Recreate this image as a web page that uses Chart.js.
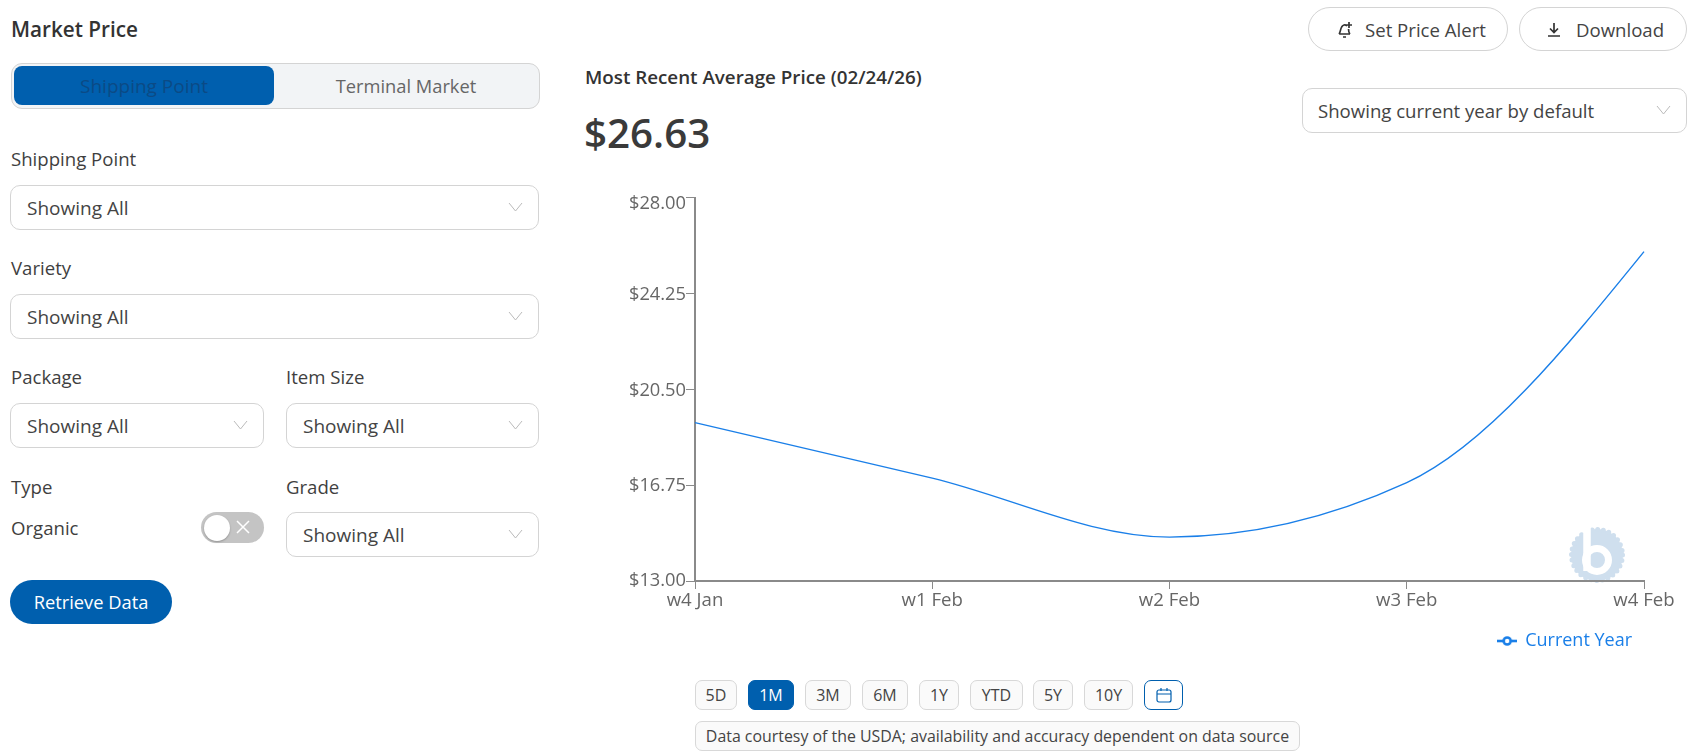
<!DOCTYPE html>
<html><head><meta charset="utf-8">
<script src="https://cdn.jsdelivr.net/npm/chart.js@4"></script>
<style>
html,body{margin:0;padding:0;background:#fff;width:1703px;height:754px;overflow:hidden;font-family:"Open Sans","Noto Sans",sans-serif;color:#3a3a3a}
.a{position:absolute;white-space:nowrap;line-height:1}
.lbl{font-size:18.6px;color:#3f3f3f}
.sel{position:absolute;box-sizing:border-box;border:1px solid #d4d4d4;border-radius:10px;height:45px;background:#fff;font-size:19px;color:#444;padding-left:16px;line-height:45px}
.sel svg{position:absolute;right:15px;top:16px}
.pill{position:absolute;box-sizing:border-box;border:1px solid #d4d4d4;border-radius:22px;height:44px;background:#fff;font-size:18.6px;color:#444;line-height:43px}
.rng{position:absolute;box-sizing:border-box;top:680px;height:30px;border:1px solid #d8d8d8;border-radius:7px;font-size:16px;line-height:28px;text-align:center;color:#444;background:#fafafa}
</style></head><body>
<div class="a" style="left:11px;top:19px;font-size:20.7px;font-weight:600;color:#333">Market Price</div>
<div style="position:absolute;left:11px;top:63px;width:529px;height:46px;box-sizing:border-box;background:#f2f4f6;border:1px solid #d4d4d4;border-radius:11px"></div>
<div style="position:absolute;left:14px;top:66px;width:260px;height:39px;background:#005fae;border-radius:8px;color:#0b4a85;font-size:19px;line-height:40px;text-align:center">Shipping Point</div>
<div class="a" style="left:274px;top:77px;width:264px;text-align:center;font-size:18.3px;color:#666">Terminal Market</div>

<div class="a lbl" style="left:11px;top:150px">Shipping Point</div>
<div class="sel" style="left:10px;top:185px;width:529px">Showing All<svg width="15" height="10"><path d="M1 1 L7.5 9 L14 1" fill="none" stroke="#bbb"/></svg></div>
<div class="a lbl" style="left:11px;top:259px">Variety</div>
<div class="sel" style="left:10px;top:294px;width:529px">Showing All<svg width="15" height="10"><path d="M1 1 L7.5 9 L14 1" fill="none" stroke="#bbb"/></svg></div>
<div class="a lbl" style="left:11px;top:368px">Package</div>
<div class="sel" style="left:10px;top:403px;width:254px">Showing All<svg width="15" height="10"><path d="M1 1 L7.5 9 L14 1" fill="none" stroke="#bbb"/></svg></div>
<div class="a lbl" style="left:286px;top:368px">Item Size</div>
<div class="sel" style="left:286px;top:403px;width:253px">Showing All<svg width="15" height="10"><path d="M1 1 L7.5 9 L14 1" fill="none" stroke="#bbb"/></svg></div>
<div class="a lbl" style="left:11px;top:478px">Type</div>
<div class="a lbl" style="left:11px;top:519px">Organic</div>
<div style="position:absolute;left:201px;top:512px;width:63px;height:31px;border-radius:16px;background:#c4c4c4"></div>
<div style="position:absolute;left:204px;top:515px;width:26px;height:26px;border-radius:50%;background:#fff;box-shadow:0 1px 2px rgba(0,0,0,.25)"></div>
<svg style="position:absolute;left:236px;top:520px" width="14" height="14"><path d="M1 1 L13 13 M13 1 L1 13" stroke="#fff" stroke-width="1.5"/></svg>
<div class="a lbl" style="left:286px;top:478px">Grade</div>
<div class="sel" style="left:286px;top:512px;width:253px">Showing All<svg width="15" height="10"><path d="M1 1 L7.5 9 L14 1" fill="none" stroke="#bbb"/></svg></div>
<div style="position:absolute;left:10px;top:580px;width:162px;height:44px;border-radius:22px;background:#005fae;color:#fff;font-size:18.3px;line-height:44px;text-align:center">Retrieve Data</div>

<div class="a" style="left:585px;top:68px;font-size:18.8px;font-weight:600;color:#333">Most Recent Average Price (02/24/26)</div>
<div class="a" style="left:584px;top:113px;font-size:40.3px;font-weight:600;color:#3a3a3a">$26.63</div>

<div class="pill" style="left:1308px;top:7px;width:200px;padding-left:56px">Set Price Alert
<svg style="position:absolute;left:27px;top:12px" width="18" height="20"><path d="M3 14 C5 12 4 6 8 5 C9 4.8 10 5 11 6 M12.5 9 C12.5 11 13 13 14 14 M3 14 H14 M7 17 H10 M13 2 V8 M10 5 H16" fill="none" stroke="#333" stroke-width="1.7"/></svg></div>
<div class="pill" style="left:1519px;top:7px;width:168px;padding-left:56px">Download
<svg style="position:absolute;left:27px;top:14px" width="14" height="16"><path d="M7 1 V10 M3 6.5 L7 10.5 L11 6.5 M1 14 H13" fill="none" stroke="#333" stroke-width="1.7"/></svg></div>
<div class="sel" style="left:1302px;top:88px;width:385px;height:45px;line-height:44px;padding-left:15px;font-size:18.6px">Showing current year by default<svg width="15" height="10"><path d="M1 1 L7.5 9 L14 1" fill="none" stroke="#bbb"/></svg></div>

<svg style="position:absolute;left:1567px;top:525px" width="60" height="60">
  <circle cx="30" cy="30" r="26" fill="#cfdfee"/>
  <circle cx="30" cy="30" r="25.5" fill="none" stroke="#cfdfee" stroke-width="5" stroke-linecap="round" stroke-dasharray="0 5.72"/>
  <circle cx="30" cy="35" r="11.5" fill="none" stroke="#fff" stroke-width="7"/>
  <path d="M20 3 V46" stroke="#fff" stroke-width="7.5"/>
</svg>

<div style="position:absolute;left:589px;top:187px;width:1090px;height:473px"><canvas id="c"></canvas></div>

<div class="rng" style="left:695px;width:42px">5D</div>
<div class="rng" style="left:748px;width:46px;background:#005fae;border-color:#005fae;color:#fff">1M</div>
<div class="rng" style="left:805px;width:46px">3M</div>
<div class="rng" style="left:862px;width:46px">6M</div>
<div class="rng" style="left:919px;width:40px">1Y</div>
<div class="rng" style="left:970px;width:53px">YTD</div>
<div class="rng" style="left:1033px;width:40px">5Y</div>
<div class="rng" style="left:1084px;width:49px">10Y</div>
<div class="rng" style="left:1144px;width:39px;background:#fff;border-color:#005fae"><svg width="16" height="16" style="margin-top:6px"><rect x="1" y="3" width="14" height="12" rx="2" fill="none" stroke="#005fae" stroke-width="1.2"/><path d="M1 7 H15 M5 1 V4 M11 1 V4" stroke="#005fae" stroke-width="1.2"/></svg></div>
<div class="rng" style="left:695px;top:721px;width:605px;font-size:15.9px;text-align:center">Data courtesy of the USDA; availability and accuracy dependent on data source</div>

<script>
const categories = ["w4 Jan","w1 Feb","w2 Feb","w3 Feb","w4 Feb"];
const yTicks = [13,16.75,20.5,24.25,28];
const currentYear = [19.2,17.03,14.72,16.85,25.9];
const seriesName = "Current Year";

const icon = document.createElement('canvas'); icon.width=20; icon.height=12;
(function(){const g=icon.getContext('2d');g.strokeStyle='#1a7fe8';g.lineWidth=2.6;g.beginPath();g.moveTo(0,6);g.lineTo(20,6);g.stroke();g.fillStyle='#fff';g.beginPath();g.arc(10,6,3.5,0,7);g.fill();g.stroke();})();

const nudgeTopLabel = {id:'nudgeTopLabel',beforeDraw(chart){
  const items = chart.scales.y.getLabelItems();
  items.forEach(it=>{ if(!it._n){it._n=1; it.options.translation[1] += (it.label==='$28.00'?6:(it.label==='$13.00'?0:1));} });
}};

/* same monotone curve family as the reference line: tangents from the neighbouring slopes */
const monotoneX = {id:'monotoneX',beforeDatasetsDraw(chart){
  const meta = chart.getDatasetMeta(0), pts = meta.data, n = pts.length;
  const sgn = v => v<0?-1:1, t = new Array(n);
  for(let i=1;i<n-1;i++){
    const h0=pts[i].x-pts[i-1].x,h1=pts[i+1].x-pts[i].x;
    const s0=(pts[i].y-pts[i-1].y)/h0,s1=(pts[i+1].y-pts[i].y)/h1;
    const p=(s0*h1+s1*h0)/(h0+h1);
    t[i]=(sgn(s0)+sgn(s1))*Math.min(Math.abs(s0),Math.abs(s1),0.5*Math.abs(p));
  }
  t[0]=(3*(pts[1].y-pts[0].y)/(pts[1].x-pts[0].x)-t[1])/2;
  t[n-1]=(3*(pts[n-1].y-pts[n-2].y)/(pts[n-1].x-pts[n-2].x)-t[n-2])/2;
  for(let i=0;i<n-1;i++){
    const dx=(pts[i+1].x-pts[i].x)/3;
    pts[i].cp2x=pts[i].x+dx; pts[i].cp2y=pts[i].y+dx*t[i];
    pts[i+1].cp1x=pts[i+1].x-dx; pts[i+1].cp1y=pts[i+1].y-dx*t[i+1];
  }
  meta.dataset._pointsUpdated=true;
}};

new Chart(document.getElementById('c'),{
  type:'line',
  plugins:[nudgeTopLabel,monotoneX],
  data:{labels:categories,datasets:[{label:seriesName,data:currentYear,borderColor:'#1a7fe8',backgroundColor:'#1a7fe8',borderWidth:1.4,pointRadius:0,cubicInterpolationMode:'monotone',fill:false,clip:false}]},
  options:{responsive:true,maintainAspectRatio:false,animation:false,
    layout:{padding:{left:0,right:35,top:0,bottom:0}},
    plugins:{tooltip:{enabled:false},
      legend:{position:'bottom',align:'end',labels:{color:'#1a7fe8',font:{family:'"Open Sans"',size:18},usePointStyle:true,pointStyle:icon,padding:12}}},
    scales:{
      x:{grid:{display:true,drawOnChartArea:false,color:'#8a8a8a',tickLength:8,lineWidth:1},border:{color:'#8a8a8a',width:2},
         afterFit(s){s.height=39},
         ticks:{color:'#666',font:{family:'"Open Sans"',size:18.6},padding:1,maxRotation:0,autoSkip:false}},
      y:{min:13,max:28,afterBuildTicks(s){s.ticks=yTicks.map(v=>({value:v}))},afterFit(s){s.width=106},
         grid:{display:true,drawOnChartArea:false,color:'#8a8a8a',tickLength:9,lineWidth:1},border:{color:'#8a8a8a',width:2},
         ticks:{color:'#666',font:{family:'"Open Sans"',size:18.3},padding:0,callback:v=>'$'+v.toFixed(2)}}
    }}
});
</script>
</body></html>
